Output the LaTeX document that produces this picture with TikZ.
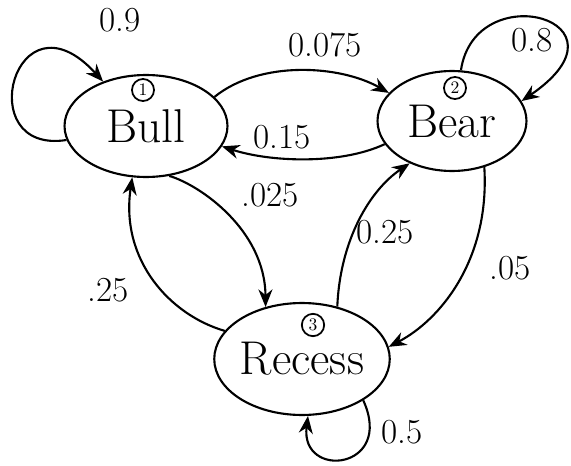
\documentclass[tikz,border=0pt]{standalone}
\usetikzlibrary{arrows.meta,shapes.geometric}

\begin{document}
\begin{tikzpicture}[x=0.02cm, y=-0.02cm, line width=1.2pt, >={Stealth[length=10pt,width=8pt]},
    state/.style={draw, ellipse, inner sep=0pt, font=\fontsize{27}{30}\selectfont},
    num/.style={draw, circle, inner sep=1.5pt, line width=1pt, font=\normalsize},
    prob/.style={font=\fontsize{20}{24}\selectfont}]
    \useasboundingbox (0,0) rectangle (571,466);

    % states
    \node (bull) at (146,126) [state, minimum width=3.26cm, minimum height=2.04cm] {Bull};
    \node (bear) at (452,121) [state, minimum width=2.98cm, minimum height=2.0cm] {Bear};
    \node (recess) at (302,359) [state, minimum width=3.5cm, minimum height=2.24cm] {Recess};

    \node (bullnum) at (143,90) [num] {1};
    \node (bearnum) at (455,88) [num] {2};
    \node (recessnum) at (313,325) [num] {3};

    % self loops
    \draw[->] (bull.190) .. controls (-30,155) and (15,-15) .. (bull.134);
    \draw[->] (bear.80) .. controls (475,-25) and (640,20) .. (bear.16);
    \draw[->] (recess.-34) .. controls (395,470) and (300,480) .. (recess.-84);

    % transitions
    \draw[->] (bull.23) .. controls (260,60) and (340,65) .. (bear.156);
    \draw[->] (bear.199) .. controls (340,165) and (270,162) .. (bull.-15);
    \draw[->] (bull.-65) .. controls (200,185) and (265,230) .. (recess.125);
    \draw[->] (recess.160) .. controls (170,315) and (120,260) .. (bull.-105);
    \draw[->] (recess.56) .. controls (340,240) and (370,190) .. (bear.225);
    \draw[->] (bear.-55) .. controls (490,260) and (440,320) .. (recess.8);

    % probabilities
    \node (p11) at (120,20) [prob] {0.9};
    \node (p12) at (325,45) [prob] {0.075};
    \node (p22) at (532,40) [prob] {0.8};
    \node (p21) at (282,137) [prob] {0.15};
    \node (p13) at (270,195) [prob] {.025};
    \node (p32) at (385,232) [prob] {0.25};
    \node (p23) at (510,268) [prob] {.05};
    \node (p31) at (108,290) [prob] {.25};
    \node (p33) at (402,432) [prob] {0.5};
\end{tikzpicture}
\end{document}
